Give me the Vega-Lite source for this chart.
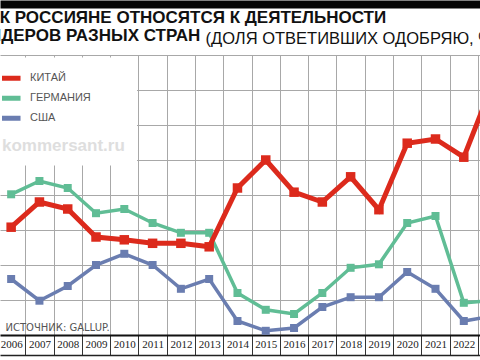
{
  "$schema": "https://vega.github.io/schema/vega-lite/v6.json",
  "width": 480,
  "height": 280,
  "autosize": {"type": "none"},
  "padding": {"left": 0, "top": 55, "right": 0, "bottom": 25},
  "background": "white",
  "title": {
    "text": ["КАК РОССИЯНЕ ОТНОСЯТСЯ К ДЕЯТЕЛЬНОСТИ", "ЛИДЕРОВ РАЗНЫХ СТРАН"],
    "anchor": "start",
    "frame": "group",
    "font": "Liberation Sans",
    "fontSize": 17,
    "fontWeight": "bold",
    "color": "#111111",
    "lineHeight": 18,
    "offset": -41,
    "dx": -23
  },
  "data": {
    "values": [
      {"year": 2006, "country": "КИТАЙ", "value": 15.4},
      {"year": 2007, "country": "КИТАЙ", "value": 19},
      {"year": 2008, "country": "КИТАЙ", "value": 18},
      {"year": 2009, "country": "КИТАЙ", "value": 14},
      {"year": 2010, "country": "КИТАЙ", "value": 13.6},
      {"year": 2011, "country": "КИТАЙ", "value": 13.1},
      {"year": 2012, "country": "КИТАЙ", "value": 13.1},
      {"year": 2013, "country": "КИТАЙ", "value": 12.6},
      {"year": 2014, "country": "КИТАЙ", "value": 21},
      {"year": 2015, "country": "КИТАЙ", "value": 25},
      {"year": 2016, "country": "КИТАЙ", "value": 20.4},
      {"year": 2017, "country": "КИТАЙ", "value": 19},
      {"year": 2018, "country": "КИТАЙ", "value": 22.6},
      {"year": 2019, "country": "КИТАЙ", "value": 17.9},
      {"year": 2020, "country": "КИТАЙ", "value": 27.4},
      {"year": 2021, "country": "КИТАЙ", "value": 28},
      {"year": 2022, "country": "КИТАЙ", "value": 25.4},
      {"year": 2023, "country": "КИТАЙ", "value": 35.7},
      {"year": 2006, "country": "ГЕРМАНИЯ", "value": 20.1},
      {"year": 2007, "country": "ГЕРМАНИЯ", "value": 22},
      {"year": 2008, "country": "ГЕРМАНИЯ", "value": 21},
      {"year": 2009, "country": "ГЕРМАНИЯ", "value": 17.4},
      {"year": 2010, "country": "ГЕРМАНИЯ", "value": 18},
      {"year": 2011, "country": "ГЕРМАНИЯ", "value": 16},
      {"year": 2012, "country": "ГЕРМАНИЯ", "value": 14.6},
      {"year": 2013, "country": "ГЕРМАНИЯ", "value": 14.6},
      {"year": 2014, "country": "ГЕРМАНИЯ", "value": 6},
      {"year": 2015, "country": "ГЕРМАНИЯ", "value": 3.6},
      {"year": 2016, "country": "ГЕРМАНИЯ", "value": 3},
      {"year": 2017, "country": "ГЕРМАНИЯ", "value": 6},
      {"year": 2018, "country": "ГЕРМАНИЯ", "value": 9.6},
      {"year": 2019, "country": "ГЕРМАНИЯ", "value": 10.1},
      {"year": 2020, "country": "ГЕРМАНИЯ", "value": 16},
      {"year": 2021, "country": "ГЕРМАНИЯ", "value": 17},
      {"year": 2022, "country": "ГЕРМАНИЯ", "value": 4.6},
      {"year": 2023, "country": "ГЕРМАНИЯ", "value": 4.9},
      {"year": 2006, "country": "США", "value": 8},
      {"year": 2007, "country": "США", "value": 4.9},
      {"year": 2008, "country": "США", "value": 7},
      {"year": 2009, "country": "США", "value": 10},
      {"year": 2010, "country": "США", "value": 11.6},
      {"year": 2011, "country": "США", "value": 10},
      {"year": 2012, "country": "США", "value": 6.6},
      {"year": 2013, "country": "США", "value": 8},
      {"year": 2014, "country": "США", "value": 2},
      {"year": 2015, "country": "США", "value": 0.6},
      {"year": 2016, "country": "США", "value": 1},
      {"year": 2017, "country": "США", "value": 4},
      {"year": 2018, "country": "США", "value": 5.4},
      {"year": 2019, "country": "США", "value": 5.4},
      {"year": 2020, "country": "США", "value": 9},
      {"year": 2021, "country": "США", "value": 6.6},
      {"year": 2022, "country": "США", "value": 2},
      {"year": 2023, "country": "США", "value": 2.7}
    ]
  },
  "encoding": {
    "y": {
      "field": "value",
      "type": "quantitative",
      "scale": {"domain": [0, 40], "nice": false, "zero": true},
      "axis": {
        "values": [5, 10, 15, 20, 25, 30, 35, 40],
        "grid": true,
        "gridColor": "#a8a8a8",
        "gridWidth": 1,
        "domain": false,
        "ticks": false,
        "labels": false,
        "title": "(ДОЛЯ ОТВЕТИВШИХ ОДОБРЯЮ, %)",
        "titleAngle": 0,
        "titleX": 205,
        "titleY": -12,
        "titleAlign": "left",
        "titleBaseline": "alphabetic",
        "titleFont": "Liberation Sans",
        "titleFontSize": 16.5,
        "titleFontWeight": "normal",
        "titleColor": "#111111"
      }
    },
    "color": {
      "field": "country",
      "type": "nominal",
      "scale": {
        "domain": ["КИТАЙ", "ГЕРМАНИЯ", "США"],
        "range": ["#dc2a1c", "#60bd95", "#6a7db0"]
      },
      "legend": {
        "orient": "none",
        "legendX": -10,
        "legendY": 2.5,
        "direction": "vertical",
        "symbolType": "M-1.67,0H1.67",
        "symbolSize": 144,
        "symbolStrokeWidth": 5,
        "clipHeight": 17.5,
        "labelFont": "Liberation Sans",
        "labelFontSize": 11,
        "labelColor": "#555555",
        "labelOffset": 11,
        "rowPadding": 2,
        "padding": 12,
        "fillColor": "white",
        "title": "kommersant.ru",
        "titleOrient": "bottom",
        "titleFont": "Liberation Sans",
        "titleFontSize": 17,
        "titleFontWeight": "bold",
        "titleColor": "#dedede",
        "titlePadding": 10,
        "zindex": 1
      }
    }
  },
  "layer": [
    {
      "transform": [{"filter": "datum.country !== 'КИТАЙ'"}],
      "mark": {"type": "line", "strokeWidth": 3.5, "clip": true},
      "encoding": {
        "x": {
          "field": "year",
          "type": "quantitative",
          "scale": {"domain": [2005.606, 2022.573], "nice": false, "zero": false},
          "axis": {
            "orient": "bottom",
            "values": [2006.5, 2007.5, 2008.5, 2009.5, 2010.5, 2011.5, 2012.5, 2013.5, 2014.5, 2015.5, 2016.5, 2017.5, 2018.5, 2019.5, 2020.5, 2021.5, 2022.5],
            "grid": true,
            "gridColor": "#a8a8a8",
            "gridWidth": 1,
            "labels": false,
            "ticks": true,
            "tickSize": 20,
            "tickColor": "#333333",
            "tickWidth": 1,
            "domain": true,
            "domainColor": "#111111",
            "domainWidth": 2,
            "title": "ИСТОЧНИК: GALLUP.",
            "titleX": 5,
            "titleY": -5,
            "titleAlign": "left",
            "titleBaseline": "alphabetic",
            "titleFont": "DejaVu Sans",
            "titleFontSize": 10,
            "titleFontWeight": "normal",
            "titleColor": "#555555"
          }
        }
      }
    },
    {
      "transform": [{"filter": "datum.country !== 'КИТАЙ'"}],
      "mark": {"type": "point", "shape": "square", "filled": true, "opacity": 1, "size": 64, "clip": true},
      "encoding": {
        "x": {
          "field": "year",
          "type": "quantitative",
          "scale": {"domain": [2005.606, 2022.573], "nice": false, "zero": false},
          "axis": {
            "orient": "bottom",
            "offset": 20,
            "values": [2006, 2007, 2008, 2009, 2010, 2011, 2012, 2013, 2014, 2015, 2016, 2017, 2018, 2019, 2020, 2021, 2022],
            "format": "d",
            "grid": false,
            "ticks": false,
            "domain": true,
            "domainColor": "#222222",
            "domainWidth": 1.5,
            "labelPadding": -17,
            "labelFont": "Liberation Sans Narrow",
            "labelFontSize": 11,
            "labelColor": "#222222",
            "labelFlush": false,
            "labelOverlap": false,
            "title": null
          }
        }
      }
    },
    {
      "transform": [{"filter": "datum.country === 'КИТАЙ'"}],
      "mark": {"type": "line", "strokeWidth": 5, "clip": true},
      "encoding": {
        "x": {
          "field": "year",
          "type": "quantitative",
          "scale": {"domain": [2005.606, 2022.573], "nice": false, "zero": false},
          "axis": {
            "orient": "top",
            "offset": 51,
            "grid": false,
            "ticks": false,
            "labels": false,
            "domain": true,
            "domainColor": "#050505",
            "domainWidth": 8,
            "title": null,
            "zindex": 2
          }
        }
      }
    },
    {
      "transform": [{"filter": "datum.country === 'КИТАЙ'"}],
      "mark": {"type": "point", "shape": "square", "filled": true, "opacity": 1, "size": 90, "clip": true},
      "encoding": {
        "x": {
          "field": "year",
          "type": "quantitative",
          "scale": {"domain": [2005.606, 2022.573], "nice": false, "zero": false},
          "axis": null
        }
      }
    }
  ],
  "resolve": {"axis": {"x": "independent"}},
  "config": {"view": {"stroke": null}}
}
